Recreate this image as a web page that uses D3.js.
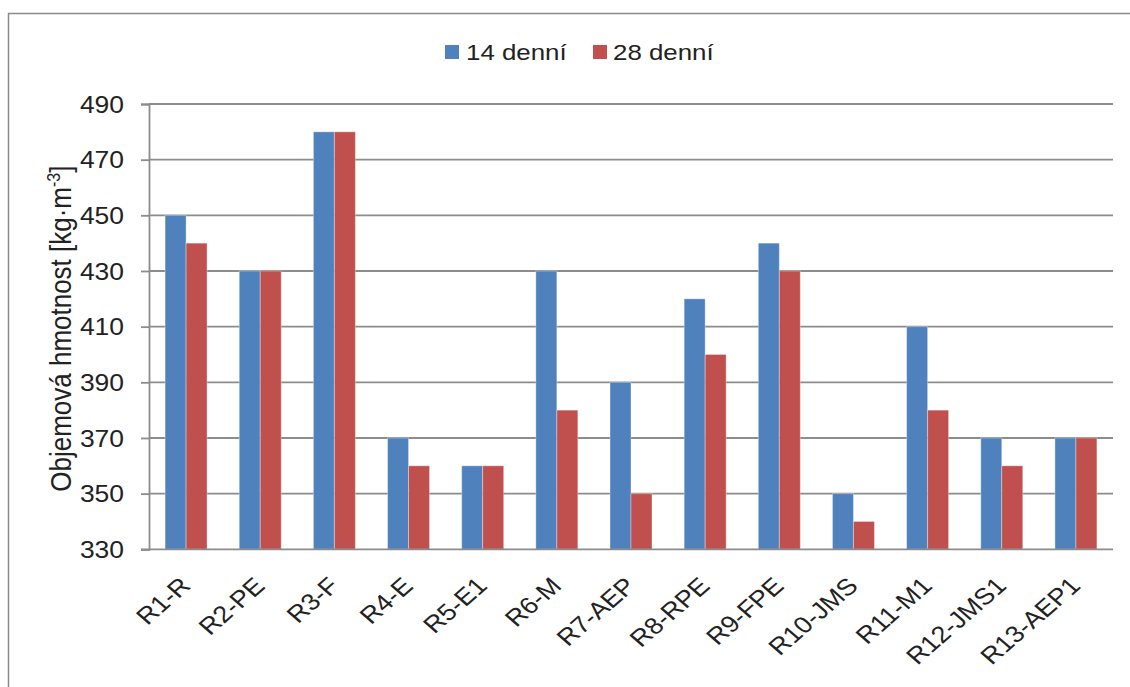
<!DOCTYPE html>
<html>
<head>
<meta charset="utf-8">
<script src="https://cdn.jsdelivr.net/npm/d3@7"></script>
<style>
  html, body { margin: 0; padding: 0; background: #fff; }
  svg { display: block; font-family: "Liberation Sans", Arial, sans-serif; }
</style>
</head>
<body>
<svg id="chart" width="1130" height="687"></svg>
<script>
// Category labels along the x axis
const categories = ["R1-R", "R2-PE", "R3-F", "R4-E", "R5-E1", "R6-M", "R7-AEP",
  "R8-RPE", "R9-FPE", "R10-JMS", "R11-M1", "R12-JMS1", "R13-AEP1"];
// Bulk density after 14 days
const values14 = [450, 430, 480, 370, 360, 430, 390, 420, 440, 350, 410, 370, 370];
// Bulk density after 28 days
const values28 = [440, 430, 480, 360, 360, 380, 350, 400, 430, 340, 380, 360, 370];
const seriesNames = ["14 denní", "28 denní"];
const yTicks = [330, 350, 370, 390, 410, 430, 450, 470, 490];

const colors = ["#4F81BD", "#C0504D"];
const textColor = "#222";
const gridColor = "#8c8c8c";
const sx = 1.15; // horizontal widening of the lettering
const svg = d3.select("#chart");

// outer frame
svg.append("rect")
  .attr("x", 8.5).attr("y", 13.5)
  .attr("width", 1200).attr("height", 800)
  .attr("fill", "none").attr("stroke", "#8a8a8a").attr("stroke-width", 1.5);

const plot = { left: 149, right: 1113, top: 104, bottom: 549.3 };

const x = d3.scaleBand().domain(categories).range([plot.left, plot.right]).padding(0);
const y = d3.scaleLinear().domain([330, 490]).range([plot.bottom, plot.top]);

const barW = x.bandwidth() * 0.283;

// horizontal gridlines
svg.append("g").selectAll("line").data(yTicks.slice(1)).join("line")
  .attr("x1", plot.left).attr("x2", plot.right)
  .attr("y1", d => y(d)).attr("y2", d => y(d))
  .attr("stroke", gridColor).attr("stroke-width", 1.8);

// bars
const groups = svg.append("g").selectAll("g").data(categories).join("g");
[values14, values28].forEach((vals, s) => {
  groups.append("rect")
    .attr("x", d => x(d) + x.bandwidth() / 2 - barW + s * barW)
    .attr("y", (d, i) => y(vals[i]))
    .attr("width", barW)
    .attr("height", (d, i) => y(330) - y(vals[i]))
    .attr("fill", colors[s])
    .attr("stroke", "rgba(255,255,255,0.35)")
    .attr("stroke-width", 1);
});

// y axis
const yAxis = d3.axisLeft(y).tickValues(yTicks).tickSize(8);
const gy = svg.append("g").attr("transform", `translate(${plot.left},0)`).call(yAxis);
gy.select(".domain").attr("stroke", gridColor).attr("stroke-width", 1.8);
gy.selectAll(".tick line").attr("stroke", gridColor).attr("stroke-width", 1.8);
gy.selectAll(".tick text")
  .attr("x", 0)
  .attr("transform", `translate(-25,0) scale(${sx},1)`)
  .attr("font-size", 23).attr("fill", textColor)
  .attr("font-family", "Liberation Sans, Arial, sans-serif")
  .attr("dy", "0.36em");

// x axis baseline
svg.append("line")
  .attr("x1", plot.left - 8).attr("x2", plot.right)
  .attr("y1", plot.bottom).attr("y2", plot.bottom)
  .attr("stroke", gridColor).attr("stroke-width", 1.8);

// rotated category labels
svg.append("g").selectAll("text").data(categories).join("text")
  .attr("transform", d => `translate(${x(d) + x.bandwidth() / 2 + 6},${plot.bottom + 38}) scale(${sx},1) rotate(-45)`)
  .attr("text-anchor", "end")
  .attr("font-size", 23.5).attr("fill", textColor)
  .text(d => d);

// y axis title
const title = svg.append("text")
  .attr("transform", `translate(71,${(plot.top + plot.bottom) / 2 + 2}) scale(${sx},1) rotate(-90)`)
  .attr("text-anchor", "middle")
  .attr("font-size", 26).attr("fill", textColor);
title.append("tspan").text("Objemová hmotnost [kg·m");
title.append("tspan").attr("font-size", 16).attr("dy", -10).text("-3");
title.append("tspan").attr("dy", 10).text("]");

// legend
const legendPos = [{ x: 445, tx: 466 }, { x: 593, tx: 613 }];
const lg = svg.append("g").selectAll("g").data(seriesNames).join("g");
lg.append("rect")
  .attr("x", (d, i) => legendPos[i].x).attr("y", 45)
  .attr("width", 14).attr("height", 14)
  .attr("fill", (d, i) => colors[i]);
lg.append("text")
  .attr("transform", (d, i) => `translate(${legendPos[i].tx},59.5) scale(${sx},1)`)
  .attr("font-size", 22.5).attr("fill", textColor)
  .text(d => d);
</script>
</body>
</html>
